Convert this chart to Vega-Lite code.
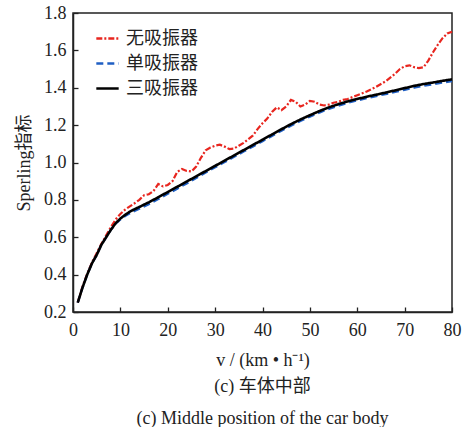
{
  "$schema": "https://vega.github.io/schema/vega-lite/v6.json",
  "autosize": {"type": "none"},
  "width": 379,
  "height": 299,
  "padding": {"left": 73, "top": 13, "right": 12, "bottom": 115},
  "background": "white",
  "datasets": {
    "red": [
      {"v":1,"y":0.25},{"v":2,"y":0.335},{"v":3,"y":0.405},{"v":4,"y":0.465},{"v":5,"y":0.515},{"v":6,"y":0.565},{"v":7,"y":0.61},{"v":8,"y":0.655},{"v":9,"y":0.695},{"v":10,"y":0.725},{"v":11,"y":0.748},{"v":12,"y":0.765},{"v":13,"y":0.782},{"v":14,"y":0.80},{"v":15,"y":0.825},{"v":16,"y":0.83},{"v":17,"y":0.848},{"v":18,"y":0.885},{"v":19,"y":0.872},{"v":20,"y":0.88},{"v":21,"y":0.90},{"v":22,"y":0.95},{"v":23,"y":0.965},{"v":24,"y":0.955},{"v":25,"y":0.952},{"v":26,"y":0.978},{"v":27,"y":1.025},{"v":28,"y":1.065},{"v":29,"y":1.08},{"v":30,"y":1.09},{"v":31,"y":1.095},{"v":32,"y":1.085},{"v":33,"y":1.072},{"v":34,"y":1.075},{"v":35,"y":1.09},{"v":36,"y":1.105},{"v":37,"y":1.125},{"v":38,"y":1.145},{"v":39,"y":1.18},{"v":40,"y":1.21},{"v":41,"y":1.235},{"v":42,"y":1.27},{"v":43,"y":1.295},{"v":44,"y":1.28},{"v":45,"y":1.30},{"v":46,"y":1.335},{"v":47,"y":1.325},{"v":48,"y":1.30},{"v":49,"y":1.31},{"v":50,"y":1.33},{"v":51,"y":1.325},{"v":52,"y":1.31},{"v":53,"y":1.305},{"v":54,"y":1.31},{"v":55,"y":1.32},{"v":56,"y":1.325},{"v":57,"y":1.335},{"v":58,"y":1.34},{"v":60,"y":1.36},{"v":62,"y":1.38},{"v":64,"y":1.405},{"v":66,"y":1.435},{"v":68,"y":1.475},{"v":69,"y":1.50},{"v":70,"y":1.515},{"v":71,"y":1.52},{"v":72,"y":1.51},{"v":73,"y":1.505},{"v":74,"y":1.51},{"v":75,"y":1.545},{"v":76,"y":1.59},{"v":77,"y":1.63},{"v":78,"y":1.665},{"v":79,"y":1.69},{"v":80,"y":1.70}
    ],
    "blue": [
      {"v":1,"y":0.25},{"v":2,"y":0.33},{"v":3,"y":0.40},{"v":4,"y":0.46},{"v":5,"y":0.505},{"v":6,"y":0.56},{"v":7,"y":0.60},{"v":8,"y":0.64},{"v":9,"y":0.672},{"v":10,"y":0.695},{"v":11,"y":0.713},{"v":12,"y":0.728},{"v":13,"y":0.74},{"v":14,"y":0.752},{"v":16,"y":0.777},{"v":18,"y":0.804},{"v":20,"y":0.832},{"v":22,"y":0.86},{"v":24,"y":0.888},{"v":26,"y":0.917},{"v":28,"y":0.946},{"v":30,"y":0.974},{"v":32,"y":1.002},{"v":34,"y":1.03},{"v":36,"y":1.058},{"v":38,"y":1.086},{"v":40,"y":1.114},{"v":42,"y":1.142},{"v":44,"y":1.17},{"v":46,"y":1.197},{"v":48,"y":1.222},{"v":50,"y":1.245},{"v":52,"y":1.267},{"v":54,"y":1.287},{"v":56,"y":1.304},{"v":58,"y":1.319},{"v":60,"y":1.332},{"v":62,"y":1.344},{"v":64,"y":1.355},{"v":66,"y":1.366},{"v":68,"y":1.377},{"v":70,"y":1.389},{"v":72,"y":1.4},{"v":74,"y":1.41},{"v":76,"y":1.418},{"v":78,"y":1.427},{"v":80,"y":1.435}
    ],
    "black": [
      {"v":1,"y":0.25},{"v":2,"y":0.33},{"v":3,"y":0.40},{"v":4,"y":0.46},{"v":5,"y":0.505},{"v":6,"y":0.56},{"v":7,"y":0.60},{"v":8,"y":0.64},{"v":9,"y":0.675},{"v":10,"y":0.70},{"v":11,"y":0.72},{"v":12,"y":0.737},{"v":13,"y":0.75},{"v":14,"y":0.762},{"v":16,"y":0.787},{"v":18,"y":0.814},{"v":20,"y":0.842},{"v":22,"y":0.87},{"v":24,"y":0.898},{"v":26,"y":0.926},{"v":28,"y":0.954},{"v":30,"y":0.982},{"v":32,"y":1.01},{"v":34,"y":1.038},{"v":36,"y":1.066},{"v":38,"y":1.094},{"v":40,"y":1.122},{"v":42,"y":1.15},{"v":44,"y":1.178},{"v":46,"y":1.205},{"v":48,"y":1.23},{"v":50,"y":1.253},{"v":52,"y":1.275},{"v":54,"y":1.295},{"v":56,"y":1.312},{"v":58,"y":1.327},{"v":60,"y":1.34},{"v":62,"y":1.352},{"v":64,"y":1.363},{"v":66,"y":1.374},{"v":68,"y":1.386},{"v":70,"y":1.398},{"v":72,"y":1.41},{"v":74,"y":1.42},{"v":76,"y":1.428},{"v":78,"y":1.437},{"v":80,"y":1.445}
    ]
  },
  "title": {
    "text": "(c) 车体中部",
    "subtitle": "(c) Middle position of the car body",
    "orient": "bottom",
    "anchor": "middle",
    "font": "Liberation Serif, Noto Sans CJK SC",
    "fontSize": 18,
    "fontWeight": "normal",
    "color": "#222",
    "subtitleFont": "Liberation Serif",
    "subtitleFontSize": 18,
    "subtitleColor": "#222",
    "subtitlePadding": 14,
    "offset": 9
  },
  "encoding": {
    "x": {
      "field": "v", "type": "quantitative",
      "scale": {"domain": [0, 80], "nice": false},
      "axis": {"values": [0,10,20,30,40,50,60,70,80], "title": "v / (km • h⁻¹)", "tickSize": -5, "labelPadding": 14, "titlePadding": 12, "labelFlush": false, "labelFont": "Liberation Serif", "titleFont": "Liberation Serif"}
    },
    "y": {
      "field": "y", "type": "quantitative",
      "scale": {"domain": [0.2, 1.8], "nice": false, "zero": false},
      "axis": {"values": [0.2,0.4,0.6,0.8,1.0,1.2,1.4,1.6,1.8], "format": ".1f", "title": "Sperling指标", "tickSize": -5, "labelPadding": 12, "titlePadding": 10, "labelFlush": false, "labelFont": "Liberation Serif", "titleFont": "Liberation Serif, Noto Sans CJK SC"}
    },
    "color": {
      "field": "s", "type": "nominal",
      "scale": {"domain": ["无吸振器", "单吸振器", "三吸振器"], "range": ["#e8261f", "#1f5fc4", "#000000"]},
      "legend": {"title": null, "orient": "none", "legendX": 22, "legendY": 13, "symbolType": "stroke", "symbolSize": 500, "symbolStrokeWidth": 2.5, "labelFont": "Noto Sans CJK SC", "labelFontSize": 18, "labelColor": "#222", "rowPadding": 3, "labelOffset": 6}
    },
    "strokeDash": {
      "field": "s", "type": "nominal",
      "scale": {"domain": ["无吸振器", "单吸振器", "三吸振器"], "range": [[6, 2, 2, 2], [7, 4], [1, 0]]},
      "legend": null
    }
  },
  "layer": [
    {"data": {"name": "red"}, "transform": [{"calculate": "'无吸振器'", "as": "s"}], "mark": {"type": "line", "strokeWidth": 2.2}},
    {"data": {"name": "blue"}, "transform": [{"calculate": "'单吸振器'", "as": "s"}], "mark": {"type": "line", "strokeWidth": 2.2}},
    {"data": {"name": "black"}, "transform": [{"calculate": "'三吸振器'", "as": "s"}], "mark": {"type": "line", "strokeWidth": 2.6}}
  ],
  "config": {
    "view": {"stroke": "#222", "strokeWidth": 1.5},
    "axis": {"grid": false, "domainColor": "#222", "domainWidth": 1.5, "tickColor": "#222", "tickWidth": 1.3, "labelFont": "Liberation Serif", "labelFontSize": 18, "labelColor": "#222", "titleFont": "Liberation Serif", "titleFontSize": 18, "titleFontWeight": "normal", "titleColor": "#222"}
  }
}
